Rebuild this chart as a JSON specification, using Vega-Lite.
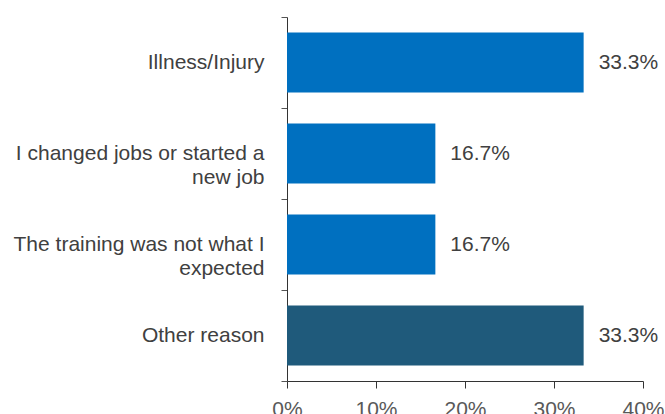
{
  "$schema": "https://vega.github.io/schema/vega-lite/v6.json",
  "width": 356,
  "height": 364,
  "autosize": {"type": "none"},
  "padding": {"left": 287, "top": 17, "right": 22, "bottom": 33},
  "background": "white",
  "config": {
    "view": {"stroke": null},
    "font": "Liberation Sans",
    "text": {"font": "Liberation Sans"}
  },
  "data": {
    "values": [
      {"reason": "Illness/Injury", "share": 0.3333},
      {"reason": "I changed jobs or started a new job", "share": 0.1667},
      {"reason": "The training was not what I expected", "share": 0.1667},
      {"reason": "Other reason", "share": 0.3333}
    ]
  },
  "encoding": {
    "y": {
      "field": "reason",
      "type": "nominal",
      "sort": null,
      "title": null,
      "scale": {"paddingInner": 0, "paddingOuter": 0},
      "axis": {
        "tickBand": "extent",
        "domainColor": "#333333",
        "tickColor": "#555555",
        "tickSize": 6,
        "labelFontSize": 21,
        "labelColor": "#404040",
        "labelFont": "Liberation Sans",
        "labelPadding": 17,
        "labelLimit": 300,
        "labelLineHeight": 24,
        "labelExpr": "datum.value == 'I changed jobs or started a new job' ? ['I changed jobs or started a', 'new job'] : datum.value == 'The training was not what I expected' ? ['The training was not what I', 'expected'] : datum.value"
      }
    },
    "x": {
      "field": "share",
      "type": "quantitative",
      "title": null,
      "scale": {"domain": [0, 0.4]},
      "axis": {
        "values": [0, 0.1, 0.2, 0.3, 0.4],
        "format": ".0%",
        "grid": false,
        "domainColor": "#333333",
        "tickColor": "#333333",
        "tickSize": 7,
        "labelFontSize": 21,
        "labelColor": "#595959",
        "labelFont": "Liberation Sans",
        "labelPadding": 10,
        "labelFlush": false
      }
    }
  },
  "layer": [
    {
      "mark": {"type": "bar", "height": {"band": 0.66}},
      "encoding": {
        "color": {
          "field": "reason",
          "type": "nominal",
          "legend": null,
          "scale": {
            "domain": ["Illness/Injury", "I changed jobs or started a new job", "The training was not what I expected", "Other reason"],
            "range": ["#0070C0", "#0070C0", "#0070C0", "#1F5A7B"]
          }
        }
      }
    },
    {
      "mark": {"type": "text", "align": "left", "baseline": "middle", "dx": 15, "fontSize": 21, "color": "#404040", "font": "Liberation Sans"},
      "encoding": {
        "text": {"field": "share", "type": "quantitative", "format": ".1%"}
      }
    }
  ]
}
